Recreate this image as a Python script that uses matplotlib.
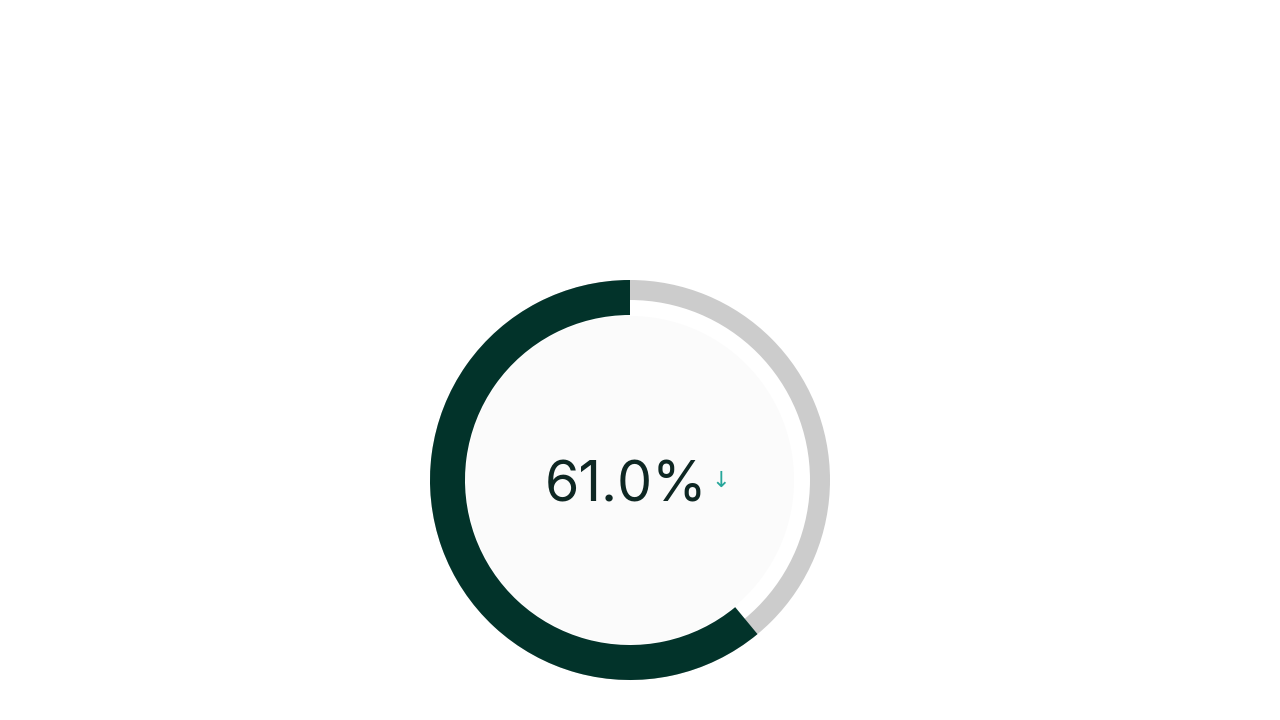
import matplotlib
matplotlib.use("Agg")
import matplotlib.pyplot as plt
from matplotlib.patches import Circle

# Data
value_pct = 61.0
values = [value_pct, 100 - value_pct]
label = f"{value_pct:.1f}%"
trend_symbol = "↓"

dark = "#02332a"
track = "#cccccc"
text_color = "#0e2723"
trend_color = "#26a69a"

fig = plt.figure(figsize=(12.8, 7.2), dpi=100)
ax = fig.add_axes([0, 0, 1, 1])

cx, cy = 630, 240
R = 200

# grey track (thin)
ax.pie([100], radius=R, center=(cx, cy), startangle=90, counterclock=True,
       colors=[track], wedgeprops=dict(width=20, linewidth=0), frame=True)
# inner fill
ax.add_patch(Circle((cx, cy), 164, facecolor="#fbfbfb", edgecolor="none", zorder=3))
# dark value arc (thick)
wedges, _ = ax.pie(values, radius=R, center=(cx, cy), startangle=90, counterclock=True,
                   colors=[dark, "none"], wedgeprops=dict(width=35, linewidth=0), frame=True)
for w in wedges:
    w.set_zorder(4)

ax.text(626, 218, label, ha="center", va="baseline", fontsize=40,
        family=["Inter", "DejaVu Sans"], fontweight="normal", color=text_color, zorder=5)
ax.text(721, 239, trend_symbol, ha="center", va="center", fontsize=16,
        family=["DejaVu Sans"], color=trend_color, zorder=5)

ax.set_xlim(0, 1280)
ax.set_ylim(0, 720)
ax.set_aspect("equal")
ax.axis("off")

fig.savefig("out.png", dpi=100, facecolor="white")
